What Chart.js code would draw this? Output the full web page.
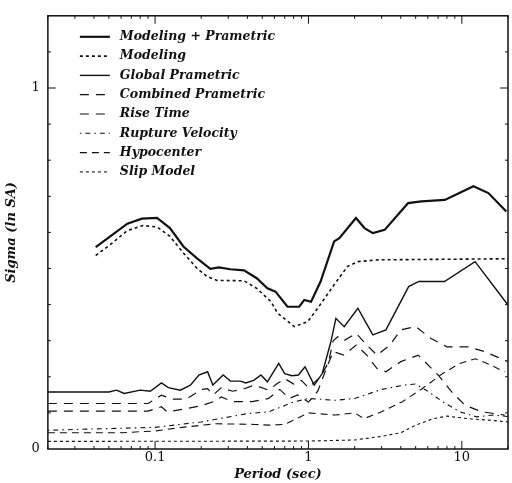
<!DOCTYPE html>
<html>
<head>
<meta charset="utf-8">
<script src="https://cdn.jsdelivr.net/npm/chart.js@4.4.1/dist/chart.umd.min.js"></script>
<style>
  html, body { margin: 0; padding: 0; background: #fff; }
  #wrap { width: 512px; height: 483px; }
</style>
</head>
<body>
<div id="wrap"><canvas id="myChart" width="512" height="483"></canvas></div>
<script>
// tick labels
const xTicks = [0.1, 1, 10];
const yTicks = [0, 1];

// Modeling + Prametric
const mpPeriods = [0.041, 0.051, 0.066, 0.082, 0.103, 0.125, 0.153, 0.187, 0.229, 0.26, 0.31, 0.38, 0.46, 0.54,
  0.61, 0.73, 0.87, 0.94, 1.04, 1.2, 1.47, 1.59, 2.04, 2.32, 2.63, 3.14, 4.46, 5.45, 7.75, 11.9, 14.9, 19.5];
const mpSigma = [0.559, 0.589, 0.624, 0.638, 0.640, 0.612, 0.561, 0.529, 0.499, 0.503, 0.498, 0.495, 0.473, 0.445,
  0.436, 0.394, 0.394, 0.413, 0.408, 0.464, 0.575, 0.584, 0.640, 0.612, 0.598, 0.607, 0.681, 0.686, 0.690, 0.728, 0.709, 0.658];

// Modeling
const modPeriods = [0.041, 0.051, 0.066, 0.083, 0.103, 0.125, 0.153, 0.187, 0.218, 0.253, 0.38, 0.46, 0.57,
  0.63, 0.81, 0.99, 1.15, 1.47, 1.8, 2.1, 2.84, 20];
const modSigma = [0.536, 0.566, 0.605, 0.619, 0.615, 0.589, 0.543, 0.501, 0.478, 0.467, 0.466, 0.445, 0.408,
  0.376, 0.339, 0.353, 0.390, 0.455, 0.506, 0.519, 0.524, 0.527];

// Global Prametric
const gpPeriods = [0.02, 0.05, 0.056, 0.063, 0.08, 0.093, 0.11, 0.122, 0.146, 0.17, 0.193, 0.22, 0.238, 0.278,
  0.31, 0.36, 0.39, 0.44, 0.49, 0.54, 0.64, 0.70, 0.78, 0.86, 0.95, 1.09, 1.23, 1.4, 1.51, 1.71, 2.1, 2.35,
  2.63, 3.2, 4.5, 5.25, 7.7, 12.2, 20];
const gpSigma = [0.158, 0.158, 0.163, 0.154, 0.163, 0.160, 0.183, 0.170, 0.163, 0.177, 0.205, 0.214, 0.177, 0.205,
  0.188, 0.188, 0.183, 0.190, 0.205, 0.186, 0.237, 0.209, 0.203, 0.205, 0.228, 0.177, 0.209, 0.297, 0.362, 0.339, 0.390, 0.353,
  0.316, 0.330, 0.450, 0.464, 0.464, 0.519, 0.399];

// Combined Prametric
const cpPeriods = [0.02, 0.09, 0.11, 0.13, 0.16, 0.2, 0.22, 0.24, 0.27, 0.32, 0.37, 0.43, 0.48, 0.55, 0.62, 0.7,
  0.8, 0.9, 1.0, 1.2, 1.35, 1.45, 1.55, 1.7, 2.05, 2.4, 2.8, 3.4, 4.0, 5.0, 6.3, 8, 11, 14, 20];
const cpSigma = [0.126, 0.126, 0.149, 0.138, 0.138, 0.165, 0.167, 0.150, 0.170, 0.160, 0.165, 0.175, 0.172, 0.163, 0.180, 0.195,
  0.180, 0.190, 0.170, 0.200, 0.240, 0.300, 0.311, 0.300, 0.320, 0.288, 0.260, 0.288, 0.330, 0.339, 0.306, 0.283, 0.283, 0.270, 0.242];

// Rise Time
const rtPeriods = [0.02, 0.09, 0.11, 0.12, 0.16, 0.2, 0.24, 0.27, 0.32, 0.43, 0.55, 0.65, 0.75, 0.85, 1.0, 1.15,
  1.3, 1.45, 1.7, 2.05, 2.4, 2.8, 3.2, 4.0, 5.2, 7.0, 8.6, 10.5, 13.5, 19];
const rtSigma = [0.105, 0.105, 0.117, 0.103, 0.112, 0.120, 0.131, 0.144, 0.131, 0.131, 0.140, 0.165, 0.140, 0.150, 0.130, 0.160,
  0.220, 0.270, 0.260, 0.288, 0.260, 0.223, 0.214, 0.242, 0.260, 0.205, 0.158, 0.121, 0.103, 0.094];

// Rupture Velocity
const rvPeriods = [0.02, 0.1, 0.2, 0.4, 0.55, 0.8, 1.0, 1.5, 2.0, 3.0, 4.2, 5.0, 6.0, 7.5, 9.7, 12.5, 16, 20];
const rvSigma = [0.052, 0.060, 0.075, 0.098, 0.103, 0.130, 0.140, 0.135, 0.140, 0.165, 0.177, 0.180, 0.160, 0.131,
  0.103, 0.089, 0.094, 0.090];

// Hypocenter
const hyPeriods = [0.02, 0.06, 0.1, 0.15, 0.25, 0.45, 0.55, 0.7, 1.0, 1.5, 2.0, 2.3, 3.0, 4.1, 5.5, 7.5, 9.7, 12.3, 15.5, 19];
const hySigma = [0.045, 0.045, 0.050, 0.060, 0.070, 0.068, 0.066, 0.068, 0.100, 0.094, 0.100, 0.084, 0.103, 0.131,
  0.167, 0.209, 0.237, 0.250, 0.232, 0.214];

// Slip Model
const smPeriods = [0.02, 1.0, 2.0, 3.0, 4.0, 5.0, 6.5, 8.0, 11, 15, 20];
const smSigma = [0.021, 0.022, 0.025, 0.035, 0.045, 0.066, 0.084, 0.091, 0.084, 0.080, 0.075];

function pts(periods, values) {
  return periods.map((p, i) => ({ x: p, y: values[i] }));
}

function series(label, periods, values, width, dash) {
  return {
    label: label,
    data: pts(periods, values),
    borderColor: '#111',
    borderWidth: width,
    borderDash: dash,
    showLine: true,
    pointRadius: 0,
    tension: 0,
    fill: false
  };
}

const serif = '"DejaVu Serif", "Liberation Serif", serif';

// legend drawn inside the plot, top left
const innerLegend = {
  id: 'innerLegend',
  afterDraw(chart) {
    const ctx = chart.ctx;
    const area = chart.chartArea;
    ctx.save();
    ctx.font = 'italic bold 12.5px ' + serif;
    ctx.fillStyle = '#111';
    ctx.textBaseline = 'middle';
    chart.data.datasets.forEach((ds, i) => {
      const y = area.top + 21 + i * 19.3;
      ctx.beginPath();
      ctx.setLineDash(ds.borderDash);
      ctx.lineWidth = ds.borderWidth;
      ctx.strokeStyle = '#111';
      ctx.moveTo(area.left + 32, y);
      ctx.lineTo(area.left + 62, y);
      ctx.stroke();
      ctx.setLineDash([]);
      ctx.fillText(ds.label, area.left + 72, y);
    });
    ctx.restore();
  }
};

// inward tick marks on all four sides
const inwardTicks = {
  id: 'inwardTicks',
  afterDraw(chart) {
    const ctx = chart.ctx;
    const a = chart.chartArea;
    const xs = chart.scales.x;
    const ys = chart.scales.y;
    ctx.save();
    ctx.strokeStyle = '#111';
    ctx.lineWidth = 1;
    ctx.beginPath();
    for (let d = 0.01; d < 20; d *= 10) {
      for (let m = 1; m <= 9; m++) {
        const v = d * m;
        if (v < 0.02 || v > 20) continue;
        const px = xs.getPixelForValue(v);
        const len = m === 1 ? 8 : 3;
        ctx.moveTo(px, a.bottom); ctx.lineTo(px, a.bottom - len);
        ctx.moveTo(px, a.top); ctx.lineTo(px, a.top + len);
      }
    }
    for (let k = 1; k <= 11; k++) {
      const py = ys.getPixelForValue(k / 10);
      const len = k === 10 ? 8 : 3;
      ctx.moveTo(a.left, py); ctx.lineTo(a.left + len, py);
      ctx.moveTo(a.right, py); ctx.lineTo(a.right - len, py);
    }
    ctx.stroke();
    ctx.lineWidth = 1.5;
    ctx.strokeRect(a.left, a.top, a.right - a.left, a.bottom - a.top);
    ctx.restore();
  }
};

const ctx = document.getElementById('myChart').getContext('2d');
const chart = new Chart(ctx, {
  type: 'scatter',
  data: {
    datasets: [
      series('Modeling + Prametric', mpPeriods, mpSigma, 2.2, []),
      series('Modeling', modPeriods, modSigma, 1.6, [3, 3]),
      series('Global Prametric', gpPeriods, gpSigma, 1.4, []),
      series('Combined Prametric', cpPeriods, cpSigma, 1.2, [9, 7]),
      series('Rise Time', rtPeriods, rtSigma, 1.2, [9, 7]),
      series('Rupture Velocity', rvPeriods, rvSigma, 1.1, [1.5, 4, 5, 4]),
      series('Hypocenter', hyPeriods, hySigma, 1.1, [7, 5]),
      series('Slip Model', smPeriods, smSigma, 1.1, [3, 3])
    ]
  },
  options: {
    responsive: false,
    animation: false,
    layout: { padding: { left: 4, right: 4, top: 15, bottom: 2 } },
    plugins: {
      legend: { display: false },
      tooltip: { enabled: false }
    },
    scales: {
      x: {
        type: 'logarithmic',
        min: 0.02,
        max: 20,
        afterBuildTicks: (axis) => { axis.ticks = xTicks.map(v => ({ value: v })); },
        grid: { display: false, drawTicks: false },
        border: { display: false },
        ticks: {
          color: '#111',
          font: { family: serif, size: 13, lineHeight: 1 },
          padding: 2,
          maxRotation: 0,
          callback: (v) => String(v)
        },
        title: {
          display: true,
          text: 'Period (sec)',
          color: '#111',
          font: { family: serif, size: 13, style: 'italic', weight: 'bold', lineHeight: 1 },
          padding: { top: 2, bottom: 0 }
        }
      },
      y: {
        min: 0,
        max: 1.2,
        afterBuildTicks: (axis) => { axis.ticks = yTicks.map(v => ({ value: v })); },
        grid: { display: false, drawTicks: false },
        border: { display: false },
        ticks: {
          color: '#111',
          font: { family: serif, size: 13 },
          padding: 8,
          callback: (v) => String(v)
        },
        title: {
          display: true,
          text: 'Sigma (ln SA)',
          color: '#111',
          font: { family: serif, size: 13, style: 'italic', weight: 'bold' },
          padding: { top: 0, bottom: 4 }
        }
      }
    }
  },
  plugins: [innerLegend, inwardTicks]
});
</script>
</body>
</html>
